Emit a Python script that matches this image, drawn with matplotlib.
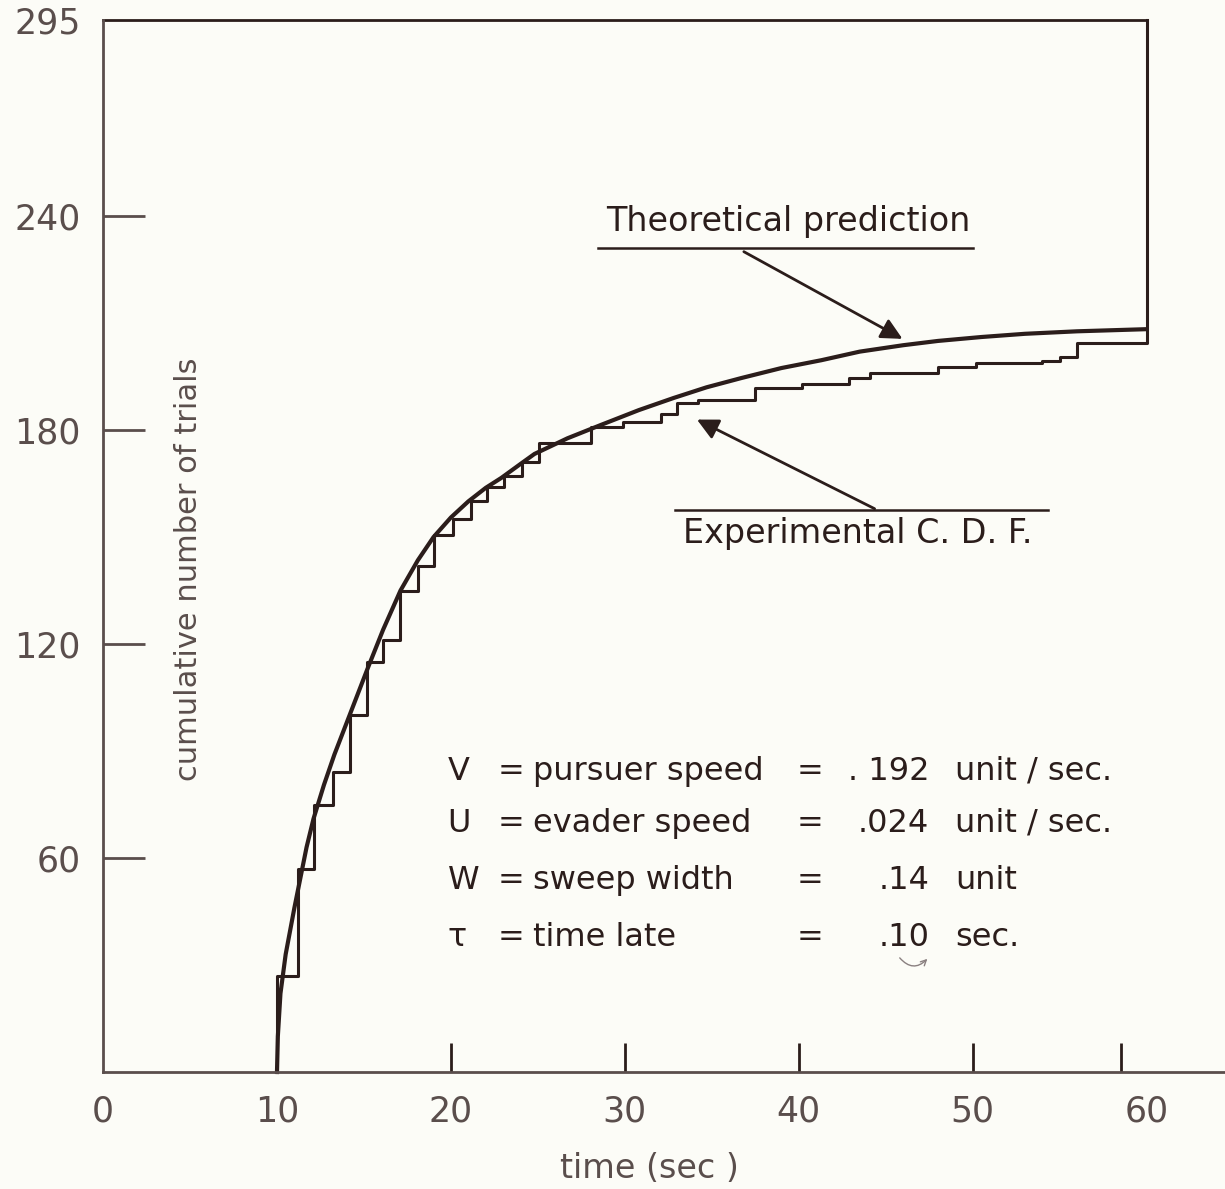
import matplotlib as mpl
mpl.use('Agg')
import matplotlib.pyplot as plt

# experimental cumulative distribution (step edges in sec, count after the step)
step_t = [10.0, 10.0, 11.2, 12.1, 13.2, 14.2, 15.2, 16.1, 17.1, 18.1, 19.0, 20.1, 21.15,
          22.1, 23.05, 24.1, 25.06, 28.05, 29.9, 32.1, 33.0, 34.2, 37.5, 40.2, 42.9,
          44.1, 48.0, 50.2, 54.0, 55.0, 56.0, 60.0]
step_n = [0, 27, 57, 75, 84, 100, 115, 121, 135, 142, 150.5, 155, 160,
          164, 167, 171, 176.5, 180.8, 182.2, 184.5, 187.5, 188.4, 191.8, 193, 194.5,
          196, 197.7, 198.8, 199.5, 200.6, 204.4, 295]

# theoretical prediction curve
theo_t = [10.0, 10.05, 10.2, 10.5, 11.0, 11.7, 12.1, 12.7, 13.3, 14.25, 15.2, 16.1, 17.1,
          18.1, 19.0, 20.0, 21.0, 22.0, 22.9, 24.0, 24.8, 26.7, 28.6, 30.8, 32.8, 34.7,
          36.7, 39.0, 41.3, 43.5, 46.0, 48.0, 50.5, 53.0, 56.0, 60.0]
theo_n = [0, 10, 22, 33, 46, 63, 71, 80.5, 89, 101, 113, 124, 135,
          143.5, 150, 155.5, 160, 163.8, 166.6, 170.5, 173.3, 177.7, 181.4, 185.6, 189, 192,
          194.6, 197.4, 199.6, 202, 203.8, 205, 206.1, 207, 207.7, 208.3]

x_labels = ['0', '10', '20', '30', '40', '50', '60']
x_label_pos = [0, 10, 20, 30, 40, 50, 60]
x_mark_pos = [20, 30, 40, 50, 58.5]
y_ticks = [60, 120, 180, 240, 295]

params = [
    ('V', 'pursuer speed', '. 192', 'unit / sec.'),
    ('U', 'evader speed', '.024', 'unit / sec.'),
    ('W', 'sweep width', '.14', 'unit'),
    ('\u03c4', 'time late', '.10', 'sec.'),
]

ink = '#2b1d1b'
grey = '#5a4e4c'
bg = '#fcfcf7'

fig = plt.figure(figsize=(12.25, 11.89), dpi=100, facecolor=bg)
ax = fig.add_axes([0.0841, 0.0984, 0.9159, 0.8848], facecolor=bg)

ax.step(step_t, step_n, where='post', color=ink, lw=2.2, clip_on=False)
ax.plot(theo_t, theo_n, color=ink, lw=3.0, clip_on=False, solid_joinstyle='round')
ax.plot([0, 60], [295, 295], color=ink, lw=2.0, clip_on=False)

ax.set_xlim(0, 64.5)
ax.set_ylim(0, 295)
for s in ['top', 'right']:
    ax.spines[s].set_visible(False)
for s in ['left', 'bottom']:
    ax.spines[s].set_color(grey)
    ax.spines[s].set_linewidth(2)

ax.xaxis.remove_overlapping_locs = False
ax.set_xticks(x_label_pos, x_labels)
ax.set_xticks(x_mark_pos, minor=True)
ax.tick_params(axis='x', which='major', length=0, pad=16, labelsize=25, labelcolor=grey)
ax.tick_params(axis='x', which='minor', direction='in', length=21, width=2, color=ink)
ax.set_yticks(y_ticks, [str(v) for v in y_ticks])
ax.tick_params(axis='y', direction='in', length=30, width=2, color=grey,
               pad=16, labelsize=25, labelcolor=grey)
ax.yaxis.get_major_ticks()[-1].tick1line.set_visible(False)

ax.text(31.4, -27, 'time (sec )', fontsize=24, color=grey, ha='center', va='center')
ax.text(4.9, 141, 'cumulative number of trials', fontsize=22, color=grey,
        rotation=90, ha='center', va='center')

# annotations
ax.text(39.4, 238.5, 'Theoretical prediction', fontsize=24, color=ink, ha='center', va='center')
ax.plot([28.45, 50.0], [231, 231], color=ink, lw=1.8)
ax.annotate('', xy=(46.1, 205.2), xytext=(36.7, 230.4),
            arrowprops=dict(arrowstyle='-|>', color=ink, lw=2, mutation_scale=32))
ax.text(43.4, 151.1, 'Experimental C. D. F.', fontsize=24, color=ink, ha='center', va='center')
ax.plot([32.9, 54.3], [157.6, 157.6], color=ink, lw=1.8)
ax.annotate('', xy=(34.0, 183.3), xytext=(44.5, 157.6),
            arrowprops=dict(arrowstyle='-|>', color=ink, lw=2, mutation_scale=32))

# parameter block
row_y = [84.4, 69.8, 53.8, 37.6]
col_x = [19.8, 22.7, 24.7, 39.9, 47.5, 49.0]
for (sym, name, val, unit), yy in zip(params, row_y):
    ax.text(col_x[0], yy, sym, fontsize=23, color=ink, va='center')
    ax.text(col_x[1], yy, '=', fontsize=23, color=ink, va='center')
    ax.text(col_x[2], yy, name, fontsize=23, color=ink, va='center')
    ax.text(col_x[3], yy, '=', fontsize=23, color=ink, va='center')
    ax.text(col_x[4], yy, val, fontsize=23, color=ink, va='center', ha='right')
    ax.text(col_x[5], yy, unit, fontsize=23, color=ink, va='center')

ax.annotate('', xy=(47.5, 32.3), xytext=(45.7, 32.6),
            arrowprops=dict(arrowstyle='->', color='#8a8080', lw=1,
                            connectionstyle='arc3,rad=0.6'))

fig.savefig('out.png', dpi=100, facecolor=bg)
